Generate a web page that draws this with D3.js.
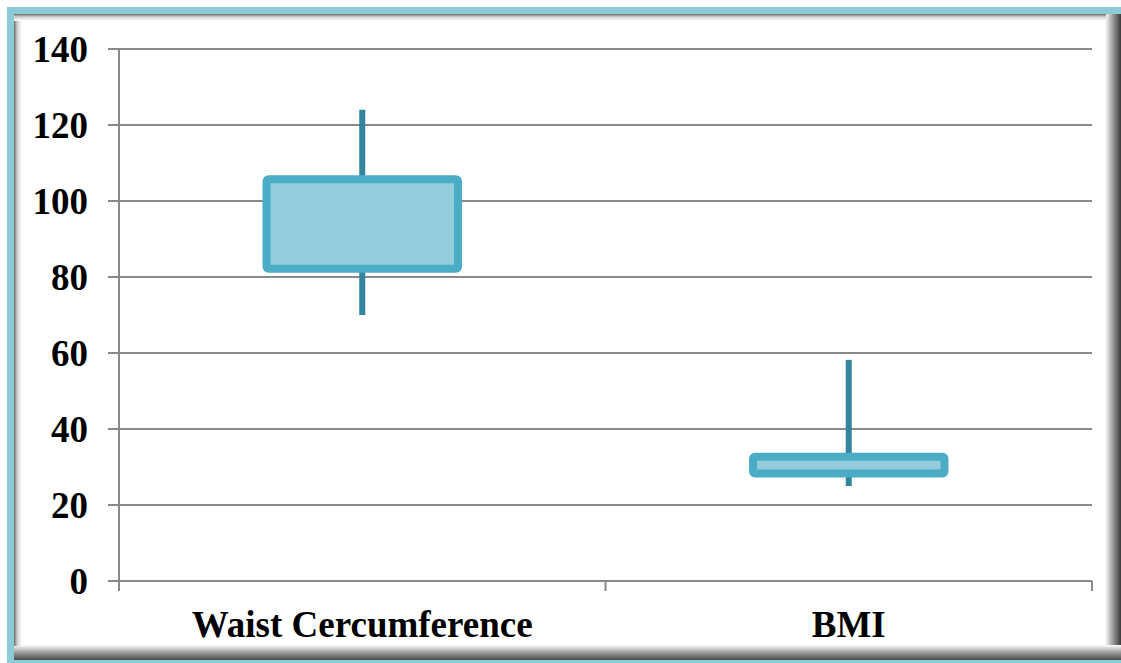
<!DOCTYPE html>
<html><head><meta charset="utf-8">
<script src="https://cdn.jsdelivr.net/npm/d3@7/dist/d3.min.js"></script>
<style>html,body{margin:0;padding:0;background:#fff;}svg{display:block;}</style>
</head><body>
<script>
// Data
const categories = ["Waist Cercumference", "BMI"];
const whiskerLow = [70, 25];
const q1 = [82.2, 28.3];
const q3 = [105.7, 32.7];
const whiskerHigh = [124, 58.2];
const yTicks = [0, 20, 40, 60, 80, 100, 120, 140];

const W = 1121, H = 663;
const svg = d3.select("body").append("svg").attr("width", W).attr("height", H);
const defs = svg.append("defs");

// Frame
svg.append("rect").attr("x", 7).attr("y", 7).attr("width", W - 7).attr("height", H - 7).attr("fill", "#8ecbd8");
// shadow gradients
const gR = defs.append("linearGradient").attr("id", "gR").attr("x1", 0).attr("x2", 1).attr("y1", 0).attr("y2", 0);
gR.append("stop").attr("offset", 0).attr("stop-color", "#ffffff");
gR.append("stop").attr("offset", 0.5).attr("stop-color", "#9a9a9a");
gR.append("stop").attr("offset", 1).attr("stop-color", "#3a3a3a");
const gB = defs.append("linearGradient").attr("id", "gB").attr("x1", 0).attr("x2", 0).attr("y1", 0).attr("y2", 1);
gB.append("stop").attr("offset", 0).attr("stop-color", "#ffffff");
gB.append("stop").attr("offset", 0.5).attr("stop-color", "#9a9a9a");
gB.append("stop").attr("offset", 1).attr("stop-color", "#4a4a4a");
const gL = defs.append("linearGradient").attr("id", "gL").attr("x1", 0).attr("x2", 1).attr("y1", 0).attr("y2", 0);
gL.append("stop").attr("offset", 0).attr("stop-color", "#6a6a6a");
gL.append("stop").attr("offset", 0.4).attr("stop-color", "#cfcfcf");
gL.append("stop").attr("offset", 1).attr("stop-color", "#ffffff");
const gT = defs.append("linearGradient").attr("id", "gT").attr("x1", 0).attr("x2", 0).attr("y1", 0).attr("y2", 1);
gT.append("stop").attr("offset", 0).attr("stop-color", "#6a6a6a");
gT.append("stop").attr("offset", 0.4).attr("stop-color", "#cfcfcf");
gT.append("stop").attr("offset", 1).attr("stop-color", "#ffffff");

svg.append("rect").attr("x", 14).attr("y", 14).attr("width", 1107 - 14 + 0).attr("height", 660 - 14).attr("fill", "#fff");
svg.append("rect").attr("x", 1105).attr("y", 14).attr("width", 16).attr("height", 646).attr("fill", "url(#gR)");
svg.append("rect").attr("x", 14).attr("y", 645).attr("width", 1107).attr("height", 15).attr("fill", "url(#gB)");
svg.append("rect").attr("x", 14).attr("y", 14).attr("width", 8).attr("height", 632).attr("fill", "url(#gL)");
svg.append("rect").attr("x", 14).attr("y", 14).attr("width", 1092).attr("height", 7).attr("fill", "url(#gT)");

// Plot
const x0 = 119, x1 = 1092, yTop = 49, yBot = 581;
const x = d3.scaleBand().domain(categories).range([x0, x1]);
const y = d3.scaleLinear().domain([0, 140]).range([yBot, yTop]);

const grid = svg.append("g");
grid.selectAll("line").data(yTicks).join("line")
  .attr("x1", 108).attr("x2", x1)
  .attr("y1", d => y(d)).attr("y2", d => y(d))
  .attr("stroke", "#898989").attr("stroke-width", 2);

// y axis line
svg.append("line").attr("x1", x0).attr("x2", x0).attr("y1", yTop).attr("y2", 591)
  .attr("stroke", "#898989").attr("stroke-width", 2);
// category ticks
const catTicks = [x0].concat(categories.map(c => x(c) + x.bandwidth()));
svg.append("g").selectAll("line").data(catTicks.slice(1)).join("line")
  .attr("x1", d => d).attr("x2", d => d).attr("y1", yBot).attr("y2", 591)
  .attr("stroke", "#898989").attr("stroke-width", 2);

// y labels
svg.append("g").selectAll("text").data(yTicks).join("text")
  .attr("x", 88).attr("y", d => y(d)).attr("dy", "0.35em")
  .attr("text-anchor", "end")
  .attr("font-family", "'Liberation Serif','Times New Roman',serif")
  .attr("font-weight", "bold").attr("font-size", 37)
  .attr("fill", "#000").text(d => d);

// x labels
svg.append("g").selectAll("text").data(categories).join("text")
  .attr("x", d => x(d) + x.bandwidth() / 2).attr("y", 637)
  .attr("text-anchor", "middle")
  .attr("font-family", "'Liberation Serif','Times New Roman',serif")
  .attr("font-weight", "bold").attr("font-size", 37)
  .attr("fill", "#000").text(d => d);

// Boxes
const boxW = x.bandwidth() * 0.41 - 8;
const g = svg.append("g");
categories.forEach((c, i) => {
  const cx = x(c) + x.bandwidth() / 2;
  g.append("line").attr("x1", cx).attr("x2", cx)
    .attr("y1", y(whiskerHigh[i])).attr("y2", y(whiskerLow[i]))
    .attr("stroke", "#31859c").attr("stroke-width", 6);
  g.append("rect")
    .attr("x", cx - boxW / 2).attr("width", boxW)
    .attr("y", y(q3[i])).attr("height", y(q1[i]) - y(q3[i]))
    .attr("fill", "#93cddd").attr("stroke", "#4bacc6").attr("stroke-width", 8)
    .attr("rx", 2).attr("stroke-linejoin", "round");
});
</script>
</body></html>
